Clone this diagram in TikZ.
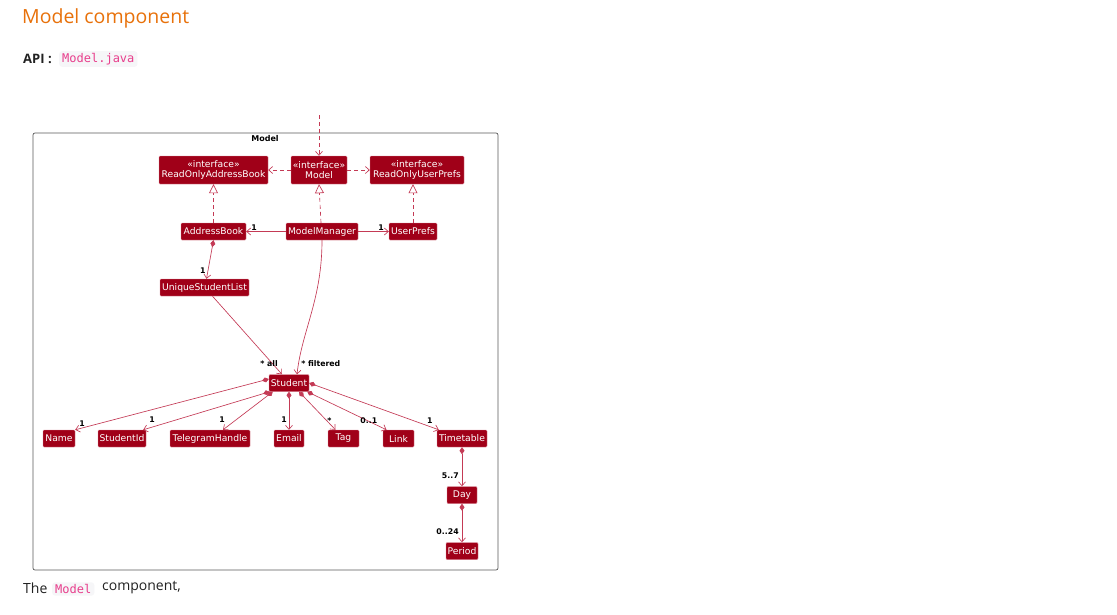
\documentclass[tikz,border=0pt]{standalone}
\usepackage{fontspec}
\setmainfont{DejaVu Sans}
\newfontfamily\pagefont{Open Sans}
\newfontfamily\codefont{DejaVu Sans Mono}
\usetikzlibrary{arrows.meta}
\definecolor{cfill}{HTML}{A00018}
\definecolor{cline}{HTML}{C43A55}
\definecolor{heading}{HTML}{E8710A}
\definecolor{pink}{HTML}{E83E8C}
\definecolor{codebg}{HTML}{F6F6F8}
\definecolor{bodytext}{HTML}{222222}
\tikzset{
  cls/.style={draw=cline!60!white, fill=cfill, text=white, inner sep=0pt, rounded corners=1pt,
    font=\fontsize{9.2}{10.6}\selectfont, minimum height=17pt, align=center},
  iface/.style={cls, minimum height=28pt},
  mult/.style={font=\bfseries\fontsize{7.8}{9}\selectfont, text=black, inner sep=0pt},
  conn/.style={draw=cline, line width=0.65pt},
  assoc/.style={conn, -{Straight Barb[length=4pt,width=7pt]}},
  comp/.style={conn, {Diamond[fill=cline,length=7pt,width=5pt]}-{Straight Barb[length=4pt,width=7pt]}},
  dep/.style={conn, dashed, dash pattern=on 4pt off 3pt, -{Straight Barb[length=4pt,width=7pt]}},
  real/.style={conn, dashed, dash pattern=on 4pt off 3pt, -{Triangle[open,fill=white,length=9pt,width=9pt]}},
  code/.style={fill=codebg, rounded corners=3pt, text=pink, inner xsep=3pt, inner ysep=2pt, font=\codefont\fontsize{12}{14}\selectfont}
}
\begin{document}
\begin{tikzpicture}[x=1pt,y=-1pt]
\useasboundingbox[fill=white] (0,0) rectangle (1117,614);
% page text
\node[anchor=west, inner sep=0, text=heading, font=\pagefont\fontsize{19.5}{22}\selectfont] (title) at (22,18) {Model component};
\node[anchor=west, inner sep=0, text=bodytext, font=\pagefont\bfseries\fontsize{13}{15}\selectfont] (api) at (23,59) {API :};
\node[code, anchor=west] (apicode) at (59,59) {Model.java};
\node[anchor=west, inner sep=0, text=bodytext, font=\pagefont\fontsize{14}{16}\selectfont] (the) at (23,588) {The};
\node[code, anchor=west] (modelcode) at (52,589) {Model};
\node[anchor=west, inner sep=0, text=bodytext, font=\pagefont\fontsize{14}{16}\selectfont] (comp) at (102,588) {component,};
% package frame
\draw[draw=black!65, line width=0.7pt, rounded corners=2pt] (33,133) rectangle (498,570);
\node[mult, font=\bfseries\fontsize{8}{9}\selectfont] (pkg) at (265,139) {Model};
% nodes
\node[iface, minimum width=109pt] (roab) at (213.5,170) {«interface»\\ReadOnlyAddressBook};
\node[iface, minimum width=56pt] (model) at (319,170) {«interface»\\Model};
\node[iface, minimum width=94pt] (roup) at (417,170) {«interface»\\ReadOnlyUserPrefs};
\node[cls, minimum width=65pt] (ab) at (213.5,231.5) {AddressBook};
\node[cls, minimum width=72pt] (mm) at (322,231.5) {ModelManager};
\node[cls, minimum width=48pt] (up) at (413,231.5) {UserPrefs};
\node[cls, minimum width=89pt] (usl) at (204.5,287.5) {UniqueStudentList};
\node[cls, minimum width=40pt] (student) at (289,383) {Student};
\node[cls, minimum width=32pt] (name) at (59,438.5) {Name};
\node[cls, minimum width=48pt] (sid) at (122,438.5) {StudentId};
\node[cls, minimum width=80pt] (tele) at (210,438.5) {TelegramHandle};
\node[cls, minimum width=30pt] (email) at (289,438.5) {Email};
\node[cls, minimum width=31pt] (tag) at (343.5,438.5) {Tag};
\node[cls, minimum width=31pt] (link) at (398.5,438.5) {Link};
\node[cls, minimum width=50pt] (tt) at (462,438.5) {Timetable};
\node[cls, minimum width=30pt] (day) at (462,495) {Day};
\node[cls, minimum width=32pt] (period) at (462,551) {Period};
\coordinate (entry) at (319,115);
% connectors
\draw[dep] (entry) -- (model.north);
\draw[dep] (model.west) -- (roab.east);
\draw[dep] (model.east) -- (roup.west);
\draw[real] (ab.north) -- (roab.south);
\draw[real] ([xshift=-1pt]mm.north) -- (model.south);
\draw[real] (up.north) -- ([xshift=-4pt]roup.south);
\draw[assoc] (mm.west) -- (ab.east) node[mult, pos=0.8, above=1pt] {1};
\draw[assoc] (mm.east) -- (up.west) node[mult, pos=0.75, above=1pt] {1};
\draw[comp] (ab.south) -- ([xshift=2pt]usl.north) node[mult, pos=0.8, left=2pt] {1};
\draw[assoc] ([xshift=8pt]usl.south) -- ([xshift=-7pt]student.north) node[mult, pos=1, anchor=east, xshift=-4pt, yshift=11pt] {* all};
\draw[assoc] (mm.south) .. controls (322,300) and (302,330) .. ([xshift=8pt]student.north) node[mult, pos=1, anchor=west, xshift=4pt, yshift=11pt] {* filtered};
\draw[comp] ([yshift=4pt]student.west) -- (name.north east) node[mult, pos=1, xshift=7pt, yshift=6pt] {1};
\draw[comp] ([xshift=1pt]student.south west) -- ([xshift=-3pt]sid.north east) node[mult, pos=1, xshift=9pt, yshift=10pt] {1};
\draw[comp] ([xshift=4pt]student.south west) -- ([xshift=13pt]tele.north) node[mult, pos=1, xshift=-1pt, yshift=10pt] {1};
\draw[comp] (student.south) -- (email.north) node[mult, pos=1, xshift=-5pt, yshift=10pt] {1};
\draw[comp] ([xshift=10pt]student.south) -- ([xshift=-8pt]tag.north) node[mult, pos=1, xshift=-6pt, yshift=9pt] {*};
\draw[comp] ([xshift=-2pt]student.south east) -- ([xshift=-12pt]link.north) node[mult, pos=1, anchor=east, xshift=-9pt, yshift=9pt] {0..1};
\draw[comp] (student.east) -- ([xshift=2pt]tt.north west) node[mult, pos=1, xshift=-9pt, yshift=9pt] {1};
\draw[comp] (tt.south) -- (day.north) node[mult, pos=0.73, left=3pt] {5..7};
\draw[comp] (day.south) -- (period.north) node[mult, pos=0.72, left=3pt] {0..24};
\end{tikzpicture}
\end{document}
